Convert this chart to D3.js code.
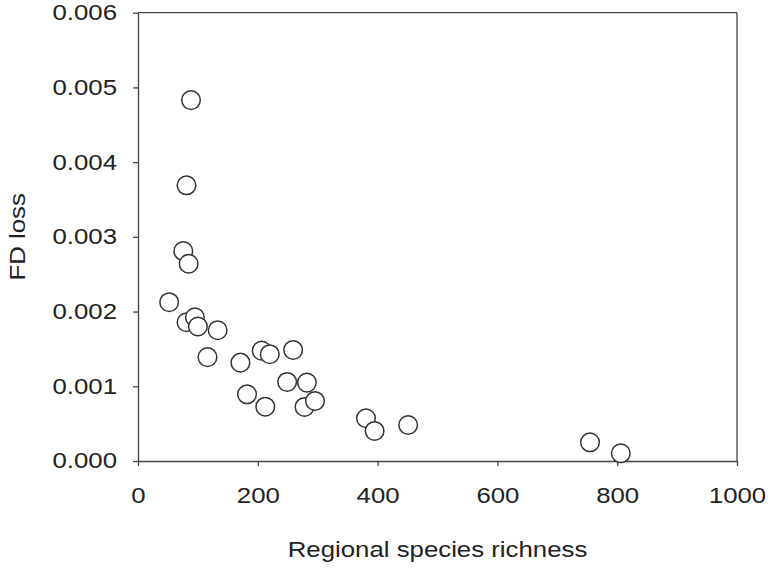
<!DOCTYPE html>
<html>
<head>
<meta charset="utf-8">
<script src="https://cdn.jsdelivr.net/npm/d3@7"></script>
<style>
  html, body { margin: 0; padding: 0; background: #fff; }
  svg text { font-family: "Liberation Sans", Arial, sans-serif; fill: #222; }
</style>
</head>
<body>
<svg id="chart" width="768" height="569"></svg>
<script>
// Data
const richness = [88.5, 81, 75.6, 84.6, 52, 81, 95, 100, 133, 116, 171, 206.5, 220, 259, 182, 212.5, 249, 282, 278, 295.5, 380.6, 395, 451, 754.6, 806];
const fdLoss   = [0.00483, 0.00369, 0.00281, 0.00264, 0.002125, 0.001857, 0.001924, 0.00180, 0.00175, 0.00139, 0.001316, 0.001477, 0.001429, 0.001486, 0.000893, 0.000727, 0.001058, 0.001049, 0.000723, 0.000804, 0.000572, 0.000402, 0.000482, 0.00025, 0.000103];
const xTicks = [0, 200, 400, 600, 800, 1000];
const yTicks = [0, 0.001, 0.002, 0.003, 0.004, 0.005, 0.006];
const xTitle = "Regional species richness";
const yTitle = "FD loss";

(function () {
const svg = d3.select("#chart");
const mL = 138, mR = 737, mT = 12.7, mB = 461;

const x = d3.scaleLinear().domain([0, 1000]).range([mL, mR]);
const y = d3.scaleLinear().domain([0, 0.006]).range([mB, mT]);

const axisColor = "#444";
const fontSize = 21.5;
const sx = 1.2; // horizontal stretch of the text glyphs

// Frame: top and right lines
svg.append("line").attr("x1", mL).attr("x2", mR).attr("y1", mT).attr("y2", mT)
  .attr("stroke", axisColor).attr("stroke-width", 1.3);
svg.append("line").attr("x1", mR).attr("x2", mR).attr("y1", mT).attr("y2", mB)
  .attr("stroke", axisColor).attr("stroke-width", 1.3);

// Bottom axis
const gx = svg.append("g").attr("transform", `translate(0,${mB})`)
  .call(d3.axisBottom(x).tickValues(xTicks).tickSize(5).tickSizeOuter(0).tickPadding(22).tickFormat(d3.format("d")));
// Left axis
const gy = svg.append("g").attr("transform", `translate(${mL},0)`)
  .call(d3.axisLeft(y).tickValues(yTicks).tickSize(5).tickSizeOuter(0).tickPadding(16).tickFormat(d3.format(".3f")));

[gx, gy].forEach(g => {
  g.select(".domain").attr("stroke", axisColor).attr("stroke-width", 1.3);
  g.selectAll(".tick line").attr("stroke", axisColor).attr("stroke-width", 1.3);
  g.selectAll("text").attr("font-family", "Liberation Sans, Arial, sans-serif")
    .attr("font-size", fontSize).attr("fill", "#222");
});
gx.selectAll(".tick text").attr("transform", `scale(${sx},1)`);
gy.selectAll(".tick text").each(function () {
  const t = d3.select(this);
  t.attr("x", +t.attr("x") / sx).attr("transform", `scale(${sx},1)`);
});

// Points
svg.append("g").selectAll("circle")
  .data(richness.map((r, i) => ({ r, v: fdLoss[i] })))
  .join("circle")
  .attr("cx", d => x(d.r))
  .attr("cy", d => y(d.v))
  .attr("r", 9.3)
  .attr("fill", "#fff")
  .attr("stroke", "#333")
  .attr("stroke-width", 1.5);

// Axis titles
svg.append("text")
  .attr("transform", `translate(${(mL + mR) / 2},557) scale(${sx},1)`)
  .attr("text-anchor", "middle")
  .attr("font-size", fontSize)
  .text(xTitle);

svg.append("text")
  .attr("transform", `translate(25,${(mT + mB) / 2}) rotate(-90) scale(${sx},1)`)
  .attr("text-anchor", "middle")
  .attr("font-size", fontSize)
  .text(yTitle);
})();
</script>
</body>
</html>
